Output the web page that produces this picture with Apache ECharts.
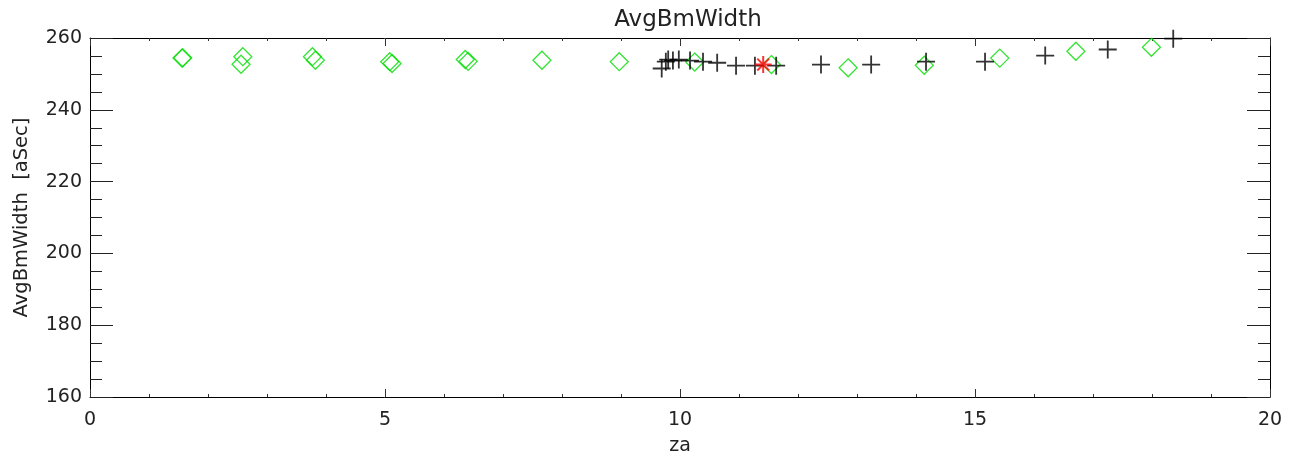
<!DOCTYPE html>
<html>
<head>
<meta charset="utf-8">
<script src="https://cdn.jsdelivr.net/npm/echarts@6/dist/echarts.min.js"></script>
<style>html,body{margin:0;padding:0;background:#fff;}#c{width:1297px;height:461px;}</style>
</head>
<body>
<div id="c"></div>
<script>
var titleText = 'AvgBmWidth';
var xName = 'za';
var yName = 'AvgBmWidth  [aSec]';
var xTicks = [0, 5, 10, 15, 20];
var yTicks = [160, 180, 200, 220, 240, 260];

// green diamonds [za, AvgBmWidth]
var diamondX = [1.56, 1.57, 2.59, 2.56, 3.77, 3.82, 5.08, 5.12, 6.36, 6.41, 7.66, 8.97, 10.25, 11.55, 12.85, 14.14, 15.42, 16.71, 17.99];
var diamondY = [254.4, 254.5, 254.8, 252.7, 254.8, 253.8, 253.4, 252.9, 254.0, 253.5, 253.8, 253.4, 253.3, 252.6, 251.7, 252.4, 254.4, 256.3, 257.4];

// black crosses
var crossX = [9.69, 9.76, 9.80, 9.88, 9.98, 10.17, 10.39, 10.63, 10.95, 11.27, 11.63, 12.39, 13.24, 14.17, 15.17, 16.19, 17.25, 18.36];
var crossY = [251.5, 253.4, 254.0, 253.7, 254.0, 253.7, 253.4, 253.1, 252.3, 252.3, 252.3, 252.6, 252.6, 253.4, 253.4, 255.1, 256.8, 259.8];

// red asterisk
var starX = [11.41];
var starY = [252.6];

function zip(a, b) { return a.map(function (v, i) { return [v, b[i]]; }); }

var FONT = 'DejaVu Sans';
var TXT = '#222';

var chart = echarts.init(document.getElementById('c'), null, { renderer: 'canvas' });
var baseX = {
  type: 'value', min: xTicks[0], max: xTicks[xTicks.length - 1], interval: 5,
  axisLine: { show: true, onZero: false, lineStyle: { color: '#000', width: 1 } },
  axisTick: { show: true, inside: true, length: 8, lineStyle: { color: '#333', width: 1 } },
  minorTick: { show: true, splitNumber: 5, length: 3, lineStyle: { color: '#333', width: 1 } },
  splitLine: { show: false }
};
var baseY = {
  type: 'value', min: yTicks[0], max: yTicks[yTicks.length - 1], interval: 20,
  axisLine: { show: true, onZero: false, lineStyle: { color: '#000', width: 1 } },
  axisTick: { show: true, inside: true, length: 23, lineStyle: { color: '#222', width: 1 } },
  minorTick: { show: true, splitNumber: 4, length: 12, lineStyle: { color: '#222', width: 1 } },
  splitLine: { show: false }
};
var option = {
  backgroundColor: '#fff',
  animation: false,
  title: {
    text: titleText, left: 683, top: 4, textAlign: 'center',
    textStyle: { fontFamily: FONT, fontSize: 23, fontWeight: 'normal', color: TXT }
  },
  grid: { left: 90, right: 27, top: 38, bottom: 63, containLabel: false },
  xAxis: [
    Object.assign({}, baseX, {
      position: 'bottom', name: xName, nameLocation: 'middle', nameGap: 40,
      nameTextStyle: { fontFamily: FONT, fontSize: 19, color: TXT },
      axisLabel: { show: true, margin: 14, fontFamily: FONT, fontSize: 19, color: TXT }
    }),
    Object.assign({}, baseX, { position: 'top', axisLabel: { show: false } })
  ],
  yAxis: [
    Object.assign({}, baseY, {
      position: 'left', name: yName, nameLocation: 'middle', nameGap: 58, nameRotate: 90,
      nameTextStyle: { fontFamily: FONT, fontSize: 19.5, color: TXT },
      axisLabel: { show: true, margin: 8, fontFamily: FONT, fontSize: 19, color: TXT }
    }),
    Object.assign({}, baseY, { position: 'right', axisLabel: { show: false } })
  ],
  series: [
    {
      type: 'scatter', data: zip(diamondX, diamondY), symbol: 'diamond', symbolSize: 18,
      itemStyle: { color: 'rgba(0,0,0,0)', borderColor: '#00dd00', borderWidth: 1.3 }
    },
    {
      type: 'scatter', data: zip(crossX, crossY),
      symbol: 'path://M10,0L10,20M0,10L20,10', symbolSize: 18,
      itemStyle: { color: 'rgba(0,0,0,0)', borderColor: '#000', borderWidth: 1.8 }
    },
    {
      type: 'scatter', data: zip(starX, starY),
      symbol: 'path://M10,0L10,20M0,10L20,10M3,3L17,17M3,17L17,3', symbolSize: 17,
      itemStyle: { color: 'rgba(0,0,0,0)', borderColor: '#ff0000', borderWidth: 2 }
    }
  ]
};
chart.setOption(option);
</script>
</body>
</html>
